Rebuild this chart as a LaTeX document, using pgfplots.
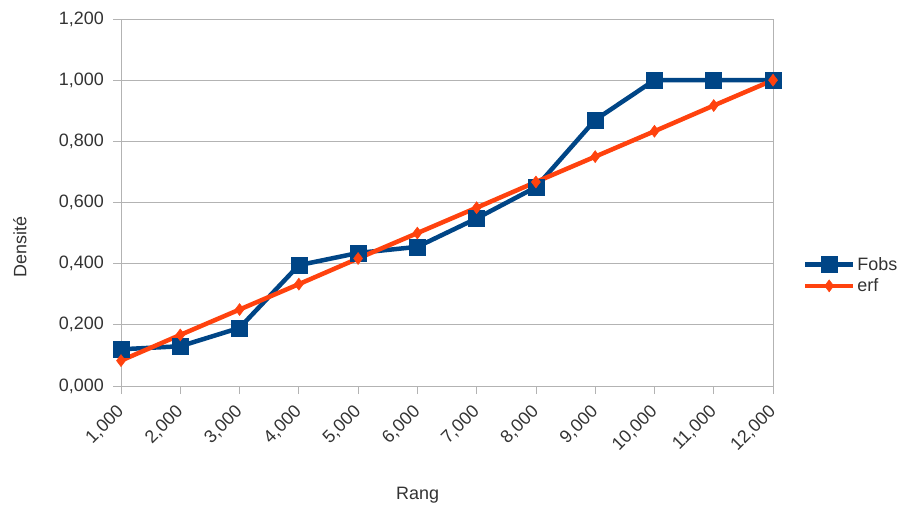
\documentclass[border=0pt]{standalone}
\usepackage{fontspec}
\setmainfont{Liberation Sans}
\usepackage{pgfplots}
\pgfplotsset{compat=1.18}
\definecolor{fobsblue}{HTML}{004586}
\definecolor{erforange}{HTML}{FF420E}
\definecolor{gridgray}{HTML}{B3B3B3}
\definecolor{txt}{HTML}{333333}
\begin{document}
\begin{tikzpicture}
\useasboundingbox (0,0) rectangle (906bp,513bp);
\begin{axis}[
    at={(121bp,127bp)}, anchor=south west,
    scale only axis,
    width=652bp, height=367bp,
    xmin=1, xmax=12, ymin=0, ymax=1.2,
    xtick={1,2,...,12},
    ytick={0,0.2,0.4,0.6,0.8,1.0,1.2},
    /pgf/number format/fixed,
    /pgf/number format/fixed zerofill,
    /pgf/number format/precision=3,
    /pgf/number format/use comma,
    /pgf/number format/assume math mode=true,
    font=\fontsize{18}{21}\selectfont,
    tick label style={text=txt},
    xticklabel style={rotate=45, anchor=east, inner sep=0pt},
    xticklabel shift=15bp,
    yticklabel style={inner sep=0pt, xshift=-9bp},
    tick pos=left,
    tick align=outside,
    major tick length=8bp,
    tick style={gridgray, line width=0.8bp},
    axis line style={gridgray, line width=0.8bp},
    ymajorgrids,
    grid style={gridgray, line width=0.8bp},
    xlabel={Rang}, ylabel={Densité},
    label style={text=txt},
    xlabel style={at={(axis description cs:0.455,-0.297)}, anchor=center},
    ylabel style={at={(axis description cs:-0.155,0.379)}, anchor=center},
    clip=false,
    legend style={at={(axis description cs:1.041,0.302)}, anchor=west,
        draw=none, fill=none, row sep=3bp, text=txt,
        font=\fontsize{18}{21}\selectfont},
    legend cell align=left,
    legend image code/.code={\draw[mark repeat=2,mark phase=2,#1] plot coordinates {(0bp,0bp) (24bp,0bp) (48bp,0bp)};},
]
\addplot[fobsblue, line width=4.5bp, mark=square*, mark size=8bp, mark options={solid, fill=fobsblue, line width=0.5bp}]
  coordinates {(1,0.120) (2,0.130) (3,0.190) (4,0.395) (5,0.435) (6,0.455) (7,0.548) (8,0.650) (9,0.870) (10,1.000) (11,1.000) (12,1.000)};
\addlegendentry{Fobs}
\addplot[erforange, line width=4.5bp, mark=diamond*, mark size=6bp, mark options={solid, fill=erforange, line width=0.5bp}]
  coordinates {(1,0.083) (2,0.167) (3,0.250) (4,0.333) (5,0.417) (6,0.500) (7,0.583) (8,0.667) (9,0.750) (10,0.833) (11,0.917) (12,1.000)};
\addlegendentry{erf}
\end{axis}
\end{tikzpicture}
\end{document}
